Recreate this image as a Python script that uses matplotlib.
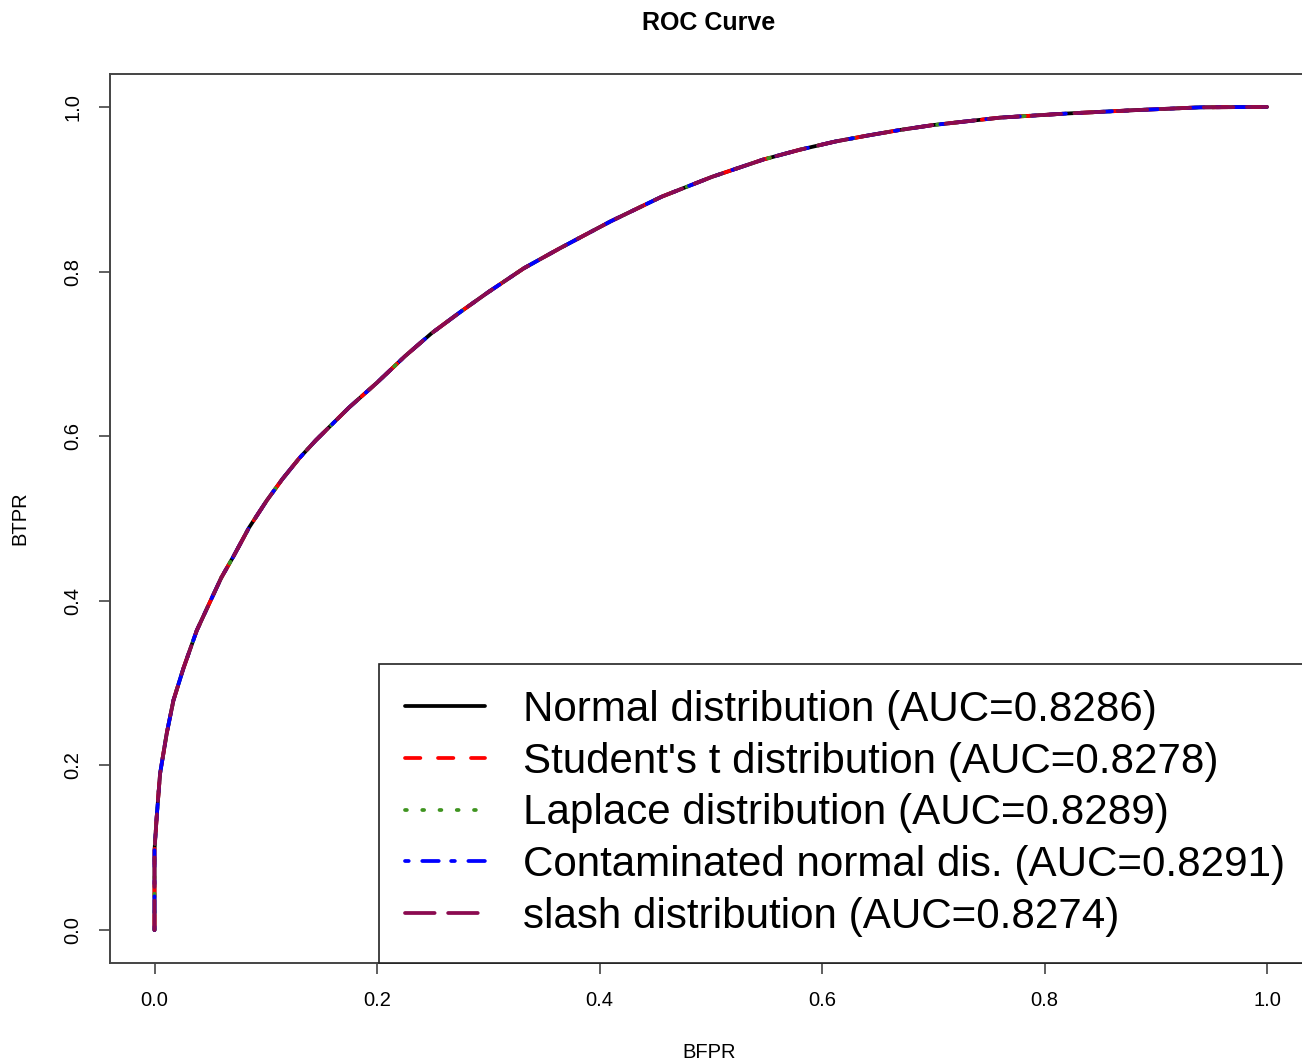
from __future__ import annotations

import matplotlib

matplotlib.use("Agg")

import matplotlib.pyplot as plt


# ROC points (the five curves sit on top of each other)
FPR = [0.0, 0.0, 0.002, 0.005, 0.011, 0.017, 0.026, 0.038, 0.05, 0.06, 0.071,
       0.085, 0.101, 0.115, 0.13, 0.145, 0.16, 0.175, 0.2, 0.225, 0.249, 0.275,
       0.3, 0.332, 0.364, 0.41, 0.456, 0.501, 0.547, 0.58, 0.612, 0.64, 0.67,
       0.7, 0.76, 0.82, 0.88, 0.94, 1.0]
TPR = [0.0, 0.097, 0.138, 0.19, 0.239, 0.279, 0.318, 0.364, 0.399, 0.428, 0.454,
       0.489, 0.522, 0.548, 0.573, 0.595, 0.615, 0.635, 0.665, 0.697, 0.725, 0.751,
       0.775, 0.804, 0.828, 0.861, 0.891, 0.915, 0.936, 0.948, 0.958, 0.965, 0.972,
       0.978, 0.987, 0.992, 0.996, 0.9995, 1.0]

SERIES_NAMES = [
    "Normal distribution",
    "Student's t distribution",
    "Laplace distribution",
    "Contaminated normal dis.",
    "slash distribution",
]
SERIES_AUC = [0.8286, 0.8278, 0.8289, 0.8291, 0.8274]

X_TICKS = [0.0, 0.2, 0.4, 0.6, 0.8, 1.0]
Y_TICKS = [0.0, 0.2, 0.4, 0.6, 0.8, 1.0]

COLORS = ["black", "#ff0000", "#3f9420", "#0000ff", "#8b0a50"]
LINESTYLES = [
    "-",
    (0, (4.1, 4.7)),
    (0, (0.5, 4.1)),
    (0, (1.0, 3.6, 4.4, 3.3)),
    (0, (7.9, 3.6)),
]

plt.rcParams["font.family"] = ["Liberation Sans", "DejaVu Sans"]

W, H = 1302, 1063
fig = plt.figure(figsize=(W / 100, H / 100), dpi=100)
ax = fig.add_axes([110 / W, (H - 963) / H, (1311.5 - 110) / W, (963 - 74) / H])

for name, auc, color, style in zip(SERIES_NAMES, SERIES_AUC, COLORS, LINESTYLES):
    ax.plot(
        FPR,
        TPR,
        color=color,
        linestyle=style,
        linewidth=2.7,
        dash_capstyle="round",
        solid_capstyle="round",
        solid_joinstyle="round",
        dash_joinstyle="round",
        label=f"{name} (AUC={auc:.4f})",
    )

ax.set_xlim(-0.04, 1.04)
ax.set_ylim(-0.04, 1.04)
ax.set_xticks(X_TICKS)
ax.set_yticks(Y_TICKS)
ax.set_xticklabels([f"{t:.1f}" for t in X_TICKS])
ax.set_yticklabels([f"{t:.1f}" for t in Y_TICKS], rotation=90, va="center")
ax.tick_params(axis="both", direction="out", length=8, width=1.2, color="#444444",
               labelsize=14.5, pad=12)

for spine in ax.spines.values():
    spine.set_color("#444444")
    spine.set_linewidth(1.4)

legend = ax.legend(
    loc="lower right",
    bbox_to_anchor=(1.0, 0.0),
    borderaxespad=0.0,
    fontsize=30.3,
    handlelength=1.9,
    handletextpad=0.9,
    borderpad=0.62,
    labelspacing=0.28,
    fancybox=False,
    framealpha=1.0,
    edgecolor="#222222",
)
legend.get_frame().set_linewidth(1.2)

fig.text(709 / W, 1 - 23 / H, "ROC Curve", ha="center", va="center",
         fontsize=18, fontweight="bold")
fig.text(709 / W, 1 - 1053 / H, "BFPR", ha="center", va="center", fontsize=14.5)
fig.text(20 / W, 1 - 518 / H, "BTPR", ha="center", va="center", fontsize=14.5,
         rotation=90)

fig.savefig("out.png", dpi=100)
plt.close(fig)
